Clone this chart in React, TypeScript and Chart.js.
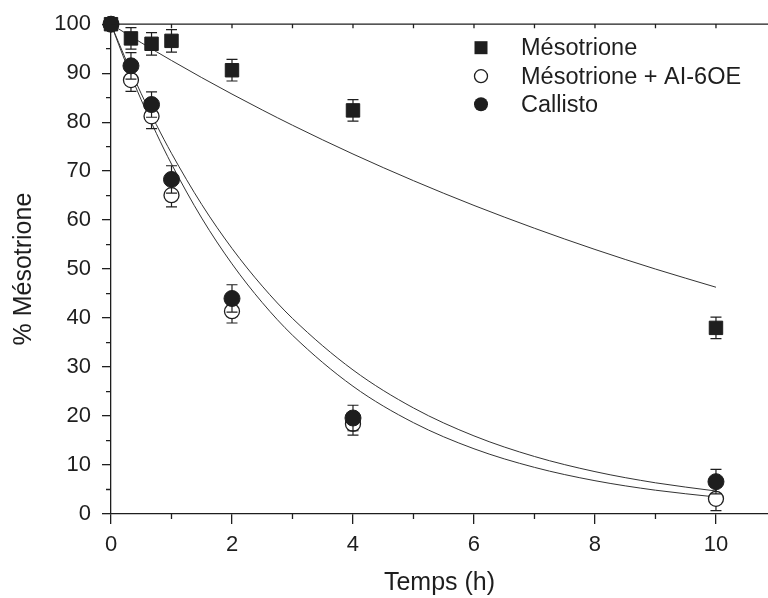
import { useEffect, useRef } from 'react';
import { Chart, registerables } from 'chart.js';

Chart.register(...registerables);

// ---- Data ----
const timeHours = [0, 0.33, 0.67, 1, 2, 4, 10];

const mesotrione = [100, 97.1, 96.0, 96.6, 90.6, 82.4, 38.0];
const mesotrioneErr = [0, 2.2, 2.3, 2.3, 2.2, 2.2, 2.2];

const mesotrioneAI = [100, 88.6, 81.2, 65.1, 41.4, 18.4, 3.1];
const mesotrioneAIErr = [0, 2.3, 2.5, 2.4, 2.4, 2.3, 2.4];

const callisto = [100, 91.5, 83.6, 68.3, 44.0, 19.6, 6.6];
const callistoErr = [0, 2.7, 2.6, 2.8, 2.8, 2.6, 2.5];

// fitted curves
const fitTime = [0, 0.25, 0.5, 0.75, 1, 1.5, 2, 2.5, 3, 4, 5, 6, 7, 8, 9, 10];
const fitMesotrione = [100, 98.09, 96.22, 94.39, 92.59, 89.09, 85.73, 82.49, 79.37, 73.49, 68.05, 63.0, 58.34, 54.01, 50.01, 46.3];
const fitMesotrioneAI = [100, 91.94, 84.54, 77.72, 71.46, 60.41, 51.07, 43.17, 36.5, 26.08, 18.64, 13.32, 9.52, 6.8, 4.86, 3.47];
const fitCallisto = [100, 92.64, 85.81, 79.49, 73.64, 63.19, 54.23, 46.53, 39.93, 29.41, 21.65, 15.95, 11.74, 8.65, 6.37, 4.69];

const xTicks = [0, 2, 4, 6, 8, 10];
const yTicks = [0, 10, 20, 30, 40, 50, 60, 70, 80, 90, 100];

const seriesNames = ['Mésotrione', 'Mésotrione + AI-6OE', 'Callisto'];
const xTitle = 'Temps (h)';
const yTitle = '% Mésotrione';

const INK = '#1e1e1e';
const FONT = "'Liberation Sans', Arial, Helvetica, sans-serif";

const errMap: Record<string, number[]> = {
  [seriesNames[0]]: mesotrioneErr,
  [seriesNames[1]]: mesotrioneAIErr,
  [seriesNames[2]]: callistoErr,
};

const toPoints = (xs: number[], ys: number[]) => xs.map((x, i) => ({ x, y: ys[i] }));

const errorBarPlugin = {
  id: 'errorBars',
  beforeDatasetDraw(chart: any, args: any) {
    const ds = chart.data.datasets[args.index];
    const errs = errMap[ds.label];
    if (!errs) return;
    const { ctx, scales } = chart;
    const ys = scales.y;
    ctx.save();
    ctx.strokeStyle = INK;
    ctx.lineWidth = 1.2;
    const cap = 5.5;
    ds.data.forEach((p: any, i: number) => {
      const e = errs[i];
      if (!e) return;
      const px = scales.x.getPixelForValue(p.x);
      const top = ys.getPixelForValue(p.y + e);
      const bot = ys.getPixelForValue(p.y - e);
      ctx.beginPath();
      ctx.moveTo(px, top);
      ctx.lineTo(px, bot);
      ctx.moveTo(px - cap, top);
      ctx.lineTo(px + cap, top);
      ctx.moveTo(px - cap, bot);
      ctx.lineTo(px + cap, bot);
      ctx.stroke();
    });
    ctx.restore();
  },
};

const axesPlugin = {
  id: 'axesExtras',
  afterDatasetsDraw(chart: any) {
    const { ctx, chartArea, scales } = chart;
    const { left, right, top, bottom } = chartArea;
    ctx.save();
    ctx.strokeStyle = INK;
    ctx.lineWidth = 1.3;
    ctx.beginPath();
    // top frame line
    ctx.moveTo(left, top);
    ctx.lineTo(right, top);
    // minor ticks x (bottom, outward)
    for (let v = 1; v <= 10; v += 2) {
      const px = scales.x.getPixelForValue(v);
      ctx.moveTo(px, bottom);
      ctx.lineTo(px, bottom + 5);
    }
    // top ticks (inward)
    for (let v = 1; v <= 10; v += 1) {
      const px = scales.x.getPixelForValue(v);
      ctx.moveTo(px, top);
      ctx.lineTo(px, top + 4);
    }
    // minor ticks y
    for (let v = 5; v < 100; v += 10) {
      const py = scales.y.getPixelForValue(v);
      ctx.moveTo(left, py);
      ctx.lineTo(left - 5, py);
    }
    ctx.stroke();
    ctx.restore();
  },
  afterDraw(chart: any) {
    const { ctx, chartArea } = chart;
    const mx = chartArea.left + 370;
    const tx = chartArea.left + 410;
    const rows = [chartArea.top + 23.5, chartArea.top + 52, chartArea.top + 80];
    ctx.save();
    ctx.fillStyle = INK;
    ctx.strokeStyle = INK;
    // square
    ctx.fillRect(mx - 6.5, rows[0] - 6.5, 13, 13);
    // open circle
    ctx.beginPath();
    ctx.arc(mx, rows[1], 6.5, 0, Math.PI * 2);
    ctx.fillStyle = '#fff';
    ctx.fill();
    ctx.lineWidth = 1.3;
    ctx.stroke();
    // filled circle
    ctx.beginPath();
    ctx.arc(mx, rows[2], 7, 0, Math.PI * 2);
    ctx.fillStyle = INK;
    ctx.fill();
    ctx.font = `23.5px ${FONT}`;
    ctx.textBaseline = 'middle';
    ctx.textAlign = 'left';
    seriesNames.forEach((n, i) => ctx.fillText(n, tx, rows[i] + 1));
    ctx.restore();
  },
};

export default function App() {
  const ref = useRef<HTMLCanvasElement>(null);
  useEffect(() => {
    document.body.style.margin = '0';
    const fitStyle = {
      showLine: true,
      pointRadius: 0,
      borderColor: '#333',
      borderWidth: 1,
      cubicInterpolationMode: 'monotone',
      order: 10,
    };
    const chart = new Chart(ref.current as HTMLCanvasElement, {
      type: 'scatter',
      data: {
        datasets: [
          { label: 'fit1', data: toPoints(fitTime, fitMesotrione), ...fitStyle },
          { label: 'fit2', data: toPoints(fitTime, fitMesotrioneAI), ...fitStyle },
          { label: 'fit3', data: toPoints(fitTime, fitCallisto), ...fitStyle },
          {
            label: seriesNames[0],
            data: toPoints(timeHours, mesotrione),
            pointStyle: 'rect',
            pointRadius: 9.5,
            backgroundColor: INK,
            borderColor: INK,
            borderWidth: 1,
            clip: false,
            order: 3,
          },
          {
            label: seriesNames[1],
            data: toPoints(timeHours, mesotrioneAI),
            pointStyle: 'circle',
            pointRadius: 7.5,
            backgroundColor: '#fff',
            borderColor: INK,
            borderWidth: 1.3,
            clip: false,
            order: 2,
          },
          {
            label: seriesNames[2],
            data: toPoints(timeHours, callisto),
            pointStyle: 'circle',
            pointRadius: 8,
            backgroundColor: INK,
            borderColor: INK,
            borderWidth: 1,
            clip: false,
            order: 1,
          },
        ] as any,
      },
      options: {
        responsive: false,
        animation: false,
        events: [],
        layout: { autoPadding: false, padding: { top: 24, right: 0, left: 0, bottom: 0 } },
        plugins: { legend: { display: false }, tooltip: { enabled: false } },
        scales: {
          x: {
            type: 'linear',
            position: 'bottom',
            min: 0,
            max: 10.86,
            afterBuildTicks: (s: any) => {
              s.ticks = xTicks.map((v) => ({ value: v }));
            },
            afterFit: (s: any) => {
              s.height = 84;
              s.paddingRight = 0;
              s.paddingLeft = 0;
            },
            ticks: {
              includeBounds: false,
              color: INK,
              padding: 8,
              maxRotation: 0,
              font: { family: FONT, size: 22 },
            },
            grid: {
              display: true,
              drawOnChartArea: false,
              drawTicks: true,
              tickLength: 10,
              color: INK,
              lineWidth: 1.3,
            },
            border: { display: true, color: INK, width: 1.3 },
            title: {
              display: true,
              text: xTitle,
              color: INK,
              font: { family: FONT, size: 25 },
              padding: { top: 0, bottom: 0 },
            },
          },
          y: {
            type: 'linear',
            min: 0,
            max: 100,
            afterBuildTicks: (s: any) => {
              s.ticks = yTicks.map((v) => ({ value: v }));
            },
            afterFit: (s: any) => {
              s.width = 111;
            },
            ticks: {
              color: INK,
              padding: 11,
              font: { family: FONT, size: 22 },
            },
            grid: {
              display: true,
              drawOnChartArea: false,
              drawTicks: true,
              tickLength: 9,
              color: INK,
              lineWidth: 1.3,
            },
            border: { display: true, color: INK, width: 1.3 },
            title: {
              display: true,
              text: yTitle,
              color: INK,
              font: { family: FONT, size: 25 },
              padding: { top: 9, bottom: 0 },
            },
          },
        },
      } as any,
      plugins: [errorBarPlugin, axesPlugin],
    });
    return () => chart.destroy();
  }, []);
  return (
    <div style={{ width: 768, height: 598 }}>
      <canvas ref={ref} width={768} height={598} style={{ display: 'block' }} />
    </div>
  );
}
